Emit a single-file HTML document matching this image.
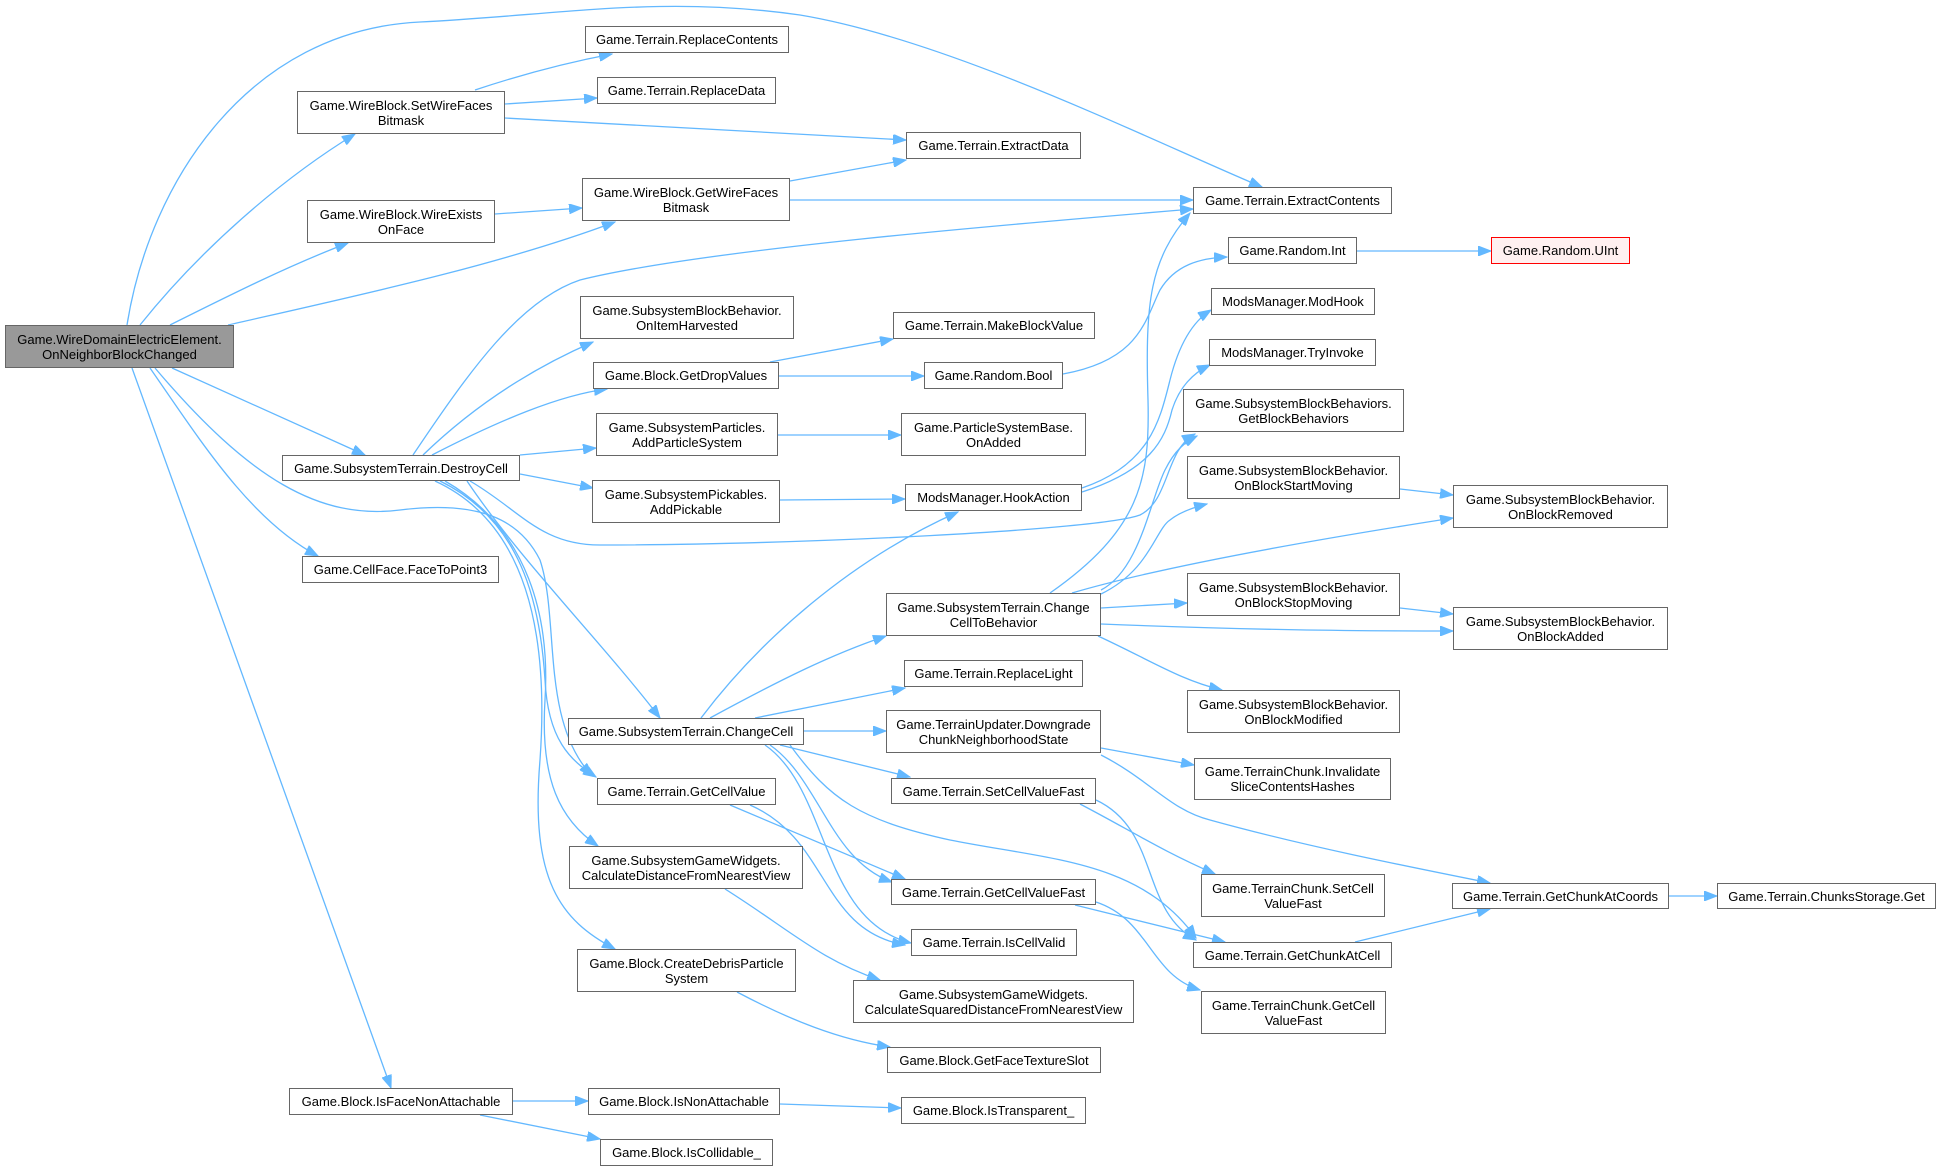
<!DOCTYPE html>
<html><head><meta charset="utf-8"><style>
html,body{margin:0;padding:0;background:#fff;}
body{width:1941px;height:1171px;position:relative;overflow:hidden;font-family:"Liberation Sans",Arial,sans-serif;}
.n{position:absolute;box-sizing:border-box;border:1px solid #666;background:#fff;font-size:13px;line-height:15px;color:#000;text-align:center;display:flex;align-items:center;justify-content:center;white-space:nowrap;}
.m{background:#999;}
.r{border-color:#f00;background:#fff0f0;}
svg{position:absolute;left:0;top:0;}
path{fill:none;stroke:#63b8ff;stroke-width:1.3;}
</style></head><body>
<svg width="1941" height="1171" viewBox="0 0 1941 1171">
<defs><marker id="a" markerUnits="userSpaceOnUse" markerWidth="14" markerHeight="10" refX="13" refY="5" orient="auto"><path d="M0,0 L13,5 L0,10 Z" style="fill:#63b8ff;stroke:#63b8ff;stroke-width:1"/></marker></defs>
<g marker-end="url(#a)">
<path d="M127,325 C150,180 250,30 420,22 C560,15 660,-5 800,15 C950,40 1150,140 1262,187"/>
<path d="M140,325 C200,250 280,180 355,134"/>
<path d="M170,325 C230,295 290,265 348,243"/>
<path d="M228,325 C360,295 500,265 615,222"/>
<path d="M172,368 L365,455"/>
<path d="M150,368 C200,440 250,520 318,556"/>
<path d="M155,368 C250,480 320,520 400,510 C480,500 520,520 540,560 C560,620 540,720 592,776"/>
<path d="M132,368 L391,1088"/>
<path d="M475,90 C520,75 570,62 612,54"/>
<path d="M505,104 L597,98"/>
<path d="M505,118 L906,140"/>
<path d="M495,214 L582,208"/>
<path d="M790,181 L906,160"/>
<path d="M790,200 L1193,200"/>
<path d="M413,455 C470,370 520,300 580,280 C700,250 1000,225 1193,209"/>
<path d="M423,455 C480,400 540,365 593,342"/>
<path d="M432,455 C500,420 560,395 607,389"/>
<path d="M520,455 L596,448"/>
<path d="M520,474 L593,488"/>
<path d="M470,481 C520,510 540,545 600,545 C800,545 1100,530 1140,515 C1170,500 1165,450 1195,434"/>
<path d="M467,481 C520,560 600,640 660,718"/>
<path d="M440,481 C520,520 540,600 545,680 C548,740 570,760 596,777"/>
<path d="M445,481 C530,530 550,620 545,700 C540,780 560,820 598,846"/>
<path d="M435,481 C520,520 550,620 540,760 C530,880 560,920 615,949"/>
<path d="M770,362 L893,339"/>
<path d="M779,376 L924,376"/>
<path d="M1063,374 C1140,360 1145,320 1160,290 C1175,265 1200,258 1227,257"/>
<path d="M1082,488 C1150,465 1160,420 1170,380 C1180,340 1195,320 1211,310"/>
<path d="M1082,492 C1150,470 1165,440 1172,410 C1180,385 1195,372 1210,365"/>
<path d="M1050,593 C1140,530 1150,480 1148,400 C1145,300 1150,260 1190,213"/>
<path d="M1101,590 C1140,570 1150,500 1165,470 C1175,450 1185,442 1197,436"/>
<path d="M1101,594 C1150,570 1155,530 1170,520 C1180,512 1195,507 1207,504"/>
<path d="M1072,593 C1150,570 1280,545 1453,518"/>
<path d="M1101,608 L1187,603"/>
<path d="M1101,624 C1250,630 1350,631 1453,631"/>
<path d="M1098,636 C1150,660 1180,680 1222,690"/>
<path d="M1400,489 L1453,495"/>
<path d="M1400,608 L1453,614"/>
<path d="M778,435 L901,435"/>
<path d="M780,500 L905,499"/>
<path d="M1357,251 L1491,251"/>
<path d="M701,718 C760,640 850,560 958,512"/>
<path d="M710,718 C780,680 830,655 886,636"/>
<path d="M755,718 L905,688"/>
<path d="M804,731 L886,731"/>
<path d="M780,745 L910,777"/>
<path d="M770,745 C820,780 830,860 892,882"/>
<path d="M765,745 C830,790 820,920 911,943"/>
<path d="M790,745 C830,800 860,820 950,840 C1050,860 1140,860 1196,938"/>
<path d="M730,805 L905,879"/>
<path d="M750,805 C830,840 820,930 905,945"/>
<path d="M725,889 C790,930 820,960 880,980"/>
<path d="M737,992 C790,1020 840,1040 890,1047"/>
<path d="M513,1101 L588,1101"/>
<path d="M480,1115 L600,1139"/>
<path d="M780,1104 L901,1108"/>
<path d="M1080,804 C1130,830 1160,850 1215,874"/>
<path d="M1096,800 C1160,830 1140,910 1196,940"/>
<path d="M1075,905 L1225,942"/>
<path d="M1096,902 C1150,920 1150,975 1200,990"/>
<path d="M1101,748 L1194,765"/>
<path d="M1101,755 C1150,780 1170,810 1210,820 C1300,845 1400,865 1490,883"/>
<path d="M1355,942 L1490,909"/>
<path d="M1669,896 L1717,896"/>
</g>
</svg>
<div class="n m" style="left:5px;top:325px;width:229px;height:43px;">Game.WireDomainElectricElement.<br>OnNeighborBlockChanged</div>
<div class="n" style="left:297px;top:91px;width:208px;height:43px;">Game.WireBlock.SetWireFaces<br>Bitmask</div>
<div class="n" style="left:307px;top:200px;width:188px;height:43px;">Game.WireBlock.WireExists<br>OnFace</div>
<div class="n" style="left:585px;top:26px;width:204px;height:27px;">Game.Terrain.ReplaceContents</div>
<div class="n" style="left:597px;top:77px;width:179px;height:27px;">Game.Terrain.ReplaceData</div>
<div class="n" style="left:582px;top:178px;width:208px;height:43px;">Game.WireBlock.GetWireFaces<br>Bitmask</div>
<div class="n" style="left:580px;top:296px;width:214px;height:43px;">Game.SubsystemBlockBehavior.<br>OnItemHarvested</div>
<div class="n" style="left:593px;top:362px;width:186px;height:27px;">Game.Block.GetDropValues</div>
<div class="n" style="left:906px;top:132px;width:175px;height:27px;">Game.Terrain.ExtractData</div>
<div class="n" style="left:1193px;top:187px;width:199px;height:27px;">Game.Terrain.ExtractContents</div>
<div class="n" style="left:893px;top:312px;width:202px;height:27px;">Game.Terrain.MakeBlockValue</div>
<div class="n" style="left:924px;top:362px;width:139px;height:27px;">Game.Random.Bool</div>
<div class="n" style="left:1228px;top:237px;width:129px;height:27px;">Game.Random.Int</div>
<div class="n r" style="left:1491px;top:237px;width:139px;height:27px;">Game.Random.UInt</div>
<div class="n" style="left:1211px;top:288px;width:164px;height:27px;">ModsManager.ModHook</div>
<div class="n" style="left:1209px;top:339px;width:167px;height:27px;">ModsManager.TryInvoke</div>
<div class="n" style="left:282px;top:455px;width:238px;height:26px;">Game.SubsystemTerrain.DestroyCell</div>
<div class="n" style="left:596px;top:413px;width:182px;height:43px;">Game.SubsystemParticles.<br>AddParticleSystem</div>
<div class="n" style="left:592px;top:480px;width:188px;height:43px;">Game.SubsystemPickables.<br>AddPickable</div>
<div class="n" style="left:302px;top:556px;width:197px;height:27px;">Game.CellFace.FaceToPoint3</div>
<div class="n" style="left:568px;top:718px;width:236px;height:27px;">Game.SubsystemTerrain.ChangeCell</div>
<div class="n" style="left:901px;top:413px;width:185px;height:43px;">Game.ParticleSystemBase.<br>OnAdded</div>
<div class="n" style="left:905px;top:484px;width:177px;height:27px;">ModsManager.HookAction</div>
<div class="n" style="left:1183px;top:389px;width:221px;height:43px;">Game.SubsystemBlockBehaviors.<br>GetBlockBehaviors</div>
<div class="n" style="left:1187px;top:456px;width:213px;height:43px;">Game.SubsystemBlockBehavior.<br>OnBlockStartMoving</div>
<div class="n" style="left:886px;top:593px;width:215px;height:43px;">Game.SubsystemTerrain.Change<br>CellToBehavior</div>
<div class="n" style="left:1187px;top:573px;width:213px;height:43px;">Game.SubsystemBlockBehavior.<br>OnBlockStopMoving</div>
<div class="n" style="left:904px;top:660px;width:179px;height:27px;">Game.Terrain.ReplaceLight</div>
<div class="n" style="left:1187px;top:690px;width:213px;height:43px;">Game.SubsystemBlockBehavior.<br>OnBlockModified</div>
<div class="n" style="left:886px;top:710px;width:215px;height:43px;">Game.TerrainUpdater.Downgrade<br>ChunkNeighborhoodState</div>
<div class="n" style="left:1194px;top:758px;width:197px;height:42px;">Game.TerrainChunk.Invalidate<br>SliceContentsHashes</div>
<div class="n" style="left:891px;top:778px;width:205px;height:26px;">Game.Terrain.SetCellValueFast</div>
<div class="n" style="left:1453px;top:485px;width:215px;height:43px;">Game.SubsystemBlockBehavior.<br>OnBlockRemoved</div>
<div class="n" style="left:1453px;top:607px;width:215px;height:43px;">Game.SubsystemBlockBehavior.<br>OnBlockAdded</div>
<div class="n" style="left:597px;top:778px;width:179px;height:27px;">Game.Terrain.GetCellValue</div>
<div class="n" style="left:569px;top:846px;width:234px;height:43px;">Game.SubsystemGameWidgets.<br>CalculateDistanceFromNearestView</div>
<div class="n" style="left:577px;top:949px;width:219px;height:43px;">Game.Block.CreateDebrisParticle<br>System</div>
<div class="n" style="left:289px;top:1088px;width:224px;height:27px;">Game.Block.IsFaceNonAttachable</div>
<div class="n" style="left:588px;top:1088px;width:192px;height:27px;">Game.Block.IsNonAttachable</div>
<div class="n" style="left:600px;top:1139px;width:173px;height:27px;">Game.Block.IsCollidable_</div>
<div class="n" style="left:891px;top:879px;width:205px;height:26px;">Game.Terrain.GetCellValueFast</div>
<div class="n" style="left:911px;top:929px;width:166px;height:27px;">Game.Terrain.IsCellValid</div>
<div class="n" style="left:853px;top:980px;width:281px;height:43px;">Game.SubsystemGameWidgets.<br>CalculateSquaredDistanceFromNearestView</div>
<div class="n" style="left:887px;top:1047px;width:214px;height:26px;">Game.Block.GetFaceTextureSlot</div>
<div class="n" style="left:901px;top:1097px;width:185px;height:27px;">Game.Block.IsTransparent_</div>
<div class="n" style="left:1201px;top:874px;width:184px;height:43px;">Game.TerrainChunk.SetCell<br>ValueFast</div>
<div class="n" style="left:1193px;top:942px;width:199px;height:26px;">Game.Terrain.GetChunkAtCell</div>
<div class="n" style="left:1201px;top:991px;width:185px;height:43px;">Game.TerrainChunk.GetCell<br>ValueFast</div>
<div class="n" style="left:1452px;top:883px;width:217px;height:26px;">Game.Terrain.GetChunkAtCoords</div>
<div class="n" style="left:1717px;top:883px;width:219px;height:26px;">Game.Terrain.ChunksStorage.Get</div>
</body></html>
